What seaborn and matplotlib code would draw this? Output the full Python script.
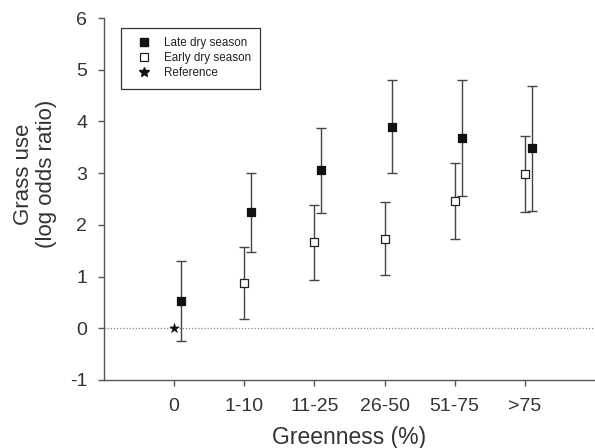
import numpy as np
import pandas as pd
import matplotlib
matplotlib.use("Agg")
import matplotlib.pyplot as plt
import seaborn as sns
from matplotlib.lines import Line2D

categories = ["0", "1-10", "11-25", "26-50", "51-75", ">75"]

late_cats = ["0", "1-10", "11-25", "26-50", "51-75", ">75"]
late_mean = [0.53, 2.25, 3.06, 3.90, 3.68, 3.48]
late_low = [-0.24, 1.47, 2.22, 3.00, 2.56, 2.26]
late_high = [1.31, 3.01, 3.88, 4.80, 4.80, 4.69]

early_cats = ["1-10", "11-25", "26-50", "51-75", ">75"]
early_mean = [0.87, 1.66, 1.73, 2.47, 2.98]
early_low = [0.17, 0.93, 1.03, 1.73, 2.24]
early_high = [1.57, 2.38, 2.44, 3.20, 3.72]

ref_cats = ["0"]
ref_value = [0.0]

yticks = [-1, 0, 1, 2, 3, 4, 5, 6]

sns.set_style("ticks")
plt.rcParams["font.family"] = ["Liberation Sans", "DejaVu Sans"]

text_col = "#333333"
line_col = "#444444"

fig = plt.figure(figsize=(5.95, 4.48), dpi=100)
ax = fig.add_axes([0.1748, 0.1518, 0.8252, 0.8080])

pos = {c: i for i, c in enumerate(categories)}
late_off = 0.1

late_df = pd.DataFrame({"x": [pos[c] + late_off for c in late_cats], "y": late_mean,
                        "lo": late_low, "hi": late_high})
early_df = pd.DataFrame({"x": [pos[c] for c in early_cats], "y": early_mean,
                         "lo": early_low, "hi": early_high})
ref_df = pd.DataFrame({"x": [pos[c] for c in ref_cats], "y": ref_value})

ax.axhline(0, color="#888888", lw=0.9, ls=(0, (1, 1.5)), zorder=1)

for df in (early_df, late_df):
    ax.errorbar(df["x"], df["y"], yerr=[df["y"] - df["lo"], df["hi"] - df["y"]],
                fmt="none", ecolor=line_col, elinewidth=1.0, capsize=3.4, capthick=1.0, zorder=2)

sns.scatterplot(data=early_df, x="x", y="y", marker="s", s=36, color="white",
                edgecolor="#222222", linewidth=0.9, ax=ax, zorder=3)
sns.scatterplot(data=late_df, x="x", y="y", marker="s", s=36, color="#111111",
                edgecolor="#111111", linewidth=0.9, ax=ax, zorder=3)
sns.scatterplot(data=ref_df, x="x", y="y", marker="*", s=55, color="#111111",
                edgecolor="#111111", linewidth=0.3, ax=ax, zorder=3)

ax.set_xlim(-1, 6)
ax.set_ylim(-1, 6)
ax.set_xticks(range(len(categories)))
ax.set_xticklabels(categories)
ax.set_yticks(yticks)
ax.set_yticklabels([str(t) for t in yticks])

for s in ["top", "right"]:
    ax.spines[s].set_visible(False)
for s in ["left", "bottom"]:
    ax.spines[s].set_color("#555555")
    ax.spines[s].set_linewidth(1.0)

ax.tick_params(axis="both", direction="out", length=4, width=1.0, color="#555555",
               labelsize=14, labelcolor=text_col)
ax.tick_params(axis="x", pad=9)
ax.tick_params(axis="y", pad=8)

ax.set_xlabel("Greenness (%)", fontsize=16.5, color=text_col, labelpad=8)
ax.set_ylabel("Grass use\n(log odds ratio)", fontsize=16, color=text_col,
              linespacing=1.1)
ax.yaxis.label.set_va("center")
ax.yaxis.set_label_coords(-0.141, 0.569)

handles = [
    Line2D([], [], ls="none", marker="s", markersize=5.5, markerfacecolor="#111111",
           markeredgecolor="#111111"),
    Line2D([], [], ls="none", marker="s", markersize=5.5, markerfacecolor="white",
           markeredgecolor="#222222", markeredgewidth=0.9),
    Line2D([], [], ls="none", marker="*", markersize=7, markerfacecolor="#111111",
           markeredgecolor="#111111"),
]
leg = ax.legend(handles, ["Late dry season", "Early dry season", "Reference"],
                loc="upper left", bbox_to_anchor=(0.034, 0.972), fontsize=8.4,
                frameon=True, fancybox=False, edgecolor="#333333", framealpha=1,
                borderpad=0.8, labelspacing=0.25, handletextpad=0.51, handlelength=2.36,
                borderaxespad=0)
leg.get_frame().set_linewidth(0.9)
for t in leg.get_texts():
    t.set_color("#222222")

fig.savefig("out.png", dpi=100)
